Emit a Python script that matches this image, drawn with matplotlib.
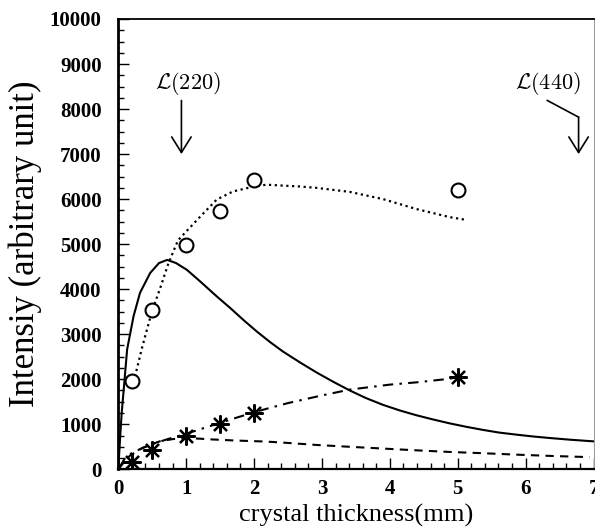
import matplotlib
matplotlib.use("Agg")
import matplotlib.pyplot as plt
from matplotlib.ticker import MultipleLocator

plt.rcParams['font.family'] = ['Liberation Serif', 'DejaVu Serif']
plt.rcParams['mathtext.fontset'] = 'cm'

# measured points
circ_x = [0.2, 0.5, 1.0, 1.5, 2.0, 5.0]
circ_y = [1950, 3530, 4990, 5730, 6430, 6210]
star_x = [0.2, 0.5, 1.0, 1.5, 2.0, 5.0]
star_y = [160, 420, 750, 1000, 1260, 2060]

# curves
solid_x = [0, 0.025, 0.05, 0.08, 0.13, 0.225, 0.32, 0.47, 0.6, 0.72, 0.85, 1.01, 1.2, 1.45, 1.65,
           1.84, 2.04, 2.24, 2.43, 2.68, 2.92, 3.17, 3.41, 3.65, 3.9, 4.15, 4.39, 4.64, 4.88,
           5.12, 5.37, 5.61, 5.86, 6.1, 6.35, 6.67, 7.0]
solid_y = [0, 650, 1250, 1770, 2660, 3400, 3920, 4360, 4580, 4650, 4580, 4430, 4180, 3840, 3580,
           3320, 3060, 2820, 2610, 2370, 2150, 1940, 1750, 1580, 1430, 1305, 1200, 1105, 1020,
           945, 875, 815, 770, 730, 695, 655, 620]

dash_x = [0, 0.08, 0.17, 0.27, 0.37, 0.5, 0.61, 0.8, 1.0, 1.2, 1.35, 1.7, 2.18, 2.5, 2.92,
          3.4, 3.9, 4.4, 4.88, 5.4, 5.86, 6.4, 6.94]
dash_y = [0, 150, 300, 400, 480, 560, 620, 670, 690, 680, 665, 640, 615, 585, 540,
          500, 460, 420, 385, 355, 325, 295, 270]

dashdot_x = [0.02, 0.1, 0.2, 0.35, 0.5, 0.75, 1.0, 1.25, 1.5, 1.75, 2.0, 2.2, 2.5, 3.0, 3.41,
             4.0, 4.39, 4.88, 5.0]
dashdot_y = [50, 250, 360, 470, 560, 680, 790, 910, 1030, 1150, 1265, 1350, 1470, 1640, 1770,
             1880, 1930, 2010, 2050]

dot_x = [0.2, 0.245, 0.35, 0.5, 0.61, 0.74, 0.88, 1.0, 1.2, 1.45, 1.69, 2.0, 2.18, 2.67, 2.92,
         3.41, 3.9, 4.39, 4.88, 5.12]
dot_y = [1950, 2050, 2700, 3530, 3990, 4580, 5085, 5280, 5600, 5990, 6170, 6280, 6320, 6280, 6250,
         6160, 6000, 5780, 5600, 5540]

# annotation anchors
lab220_xy = (1.02, 8560)
arr220 = [(0.93, 8190), (0.93, 7000)]
lab440_xy = (6.33, 8560)
arr440 = [(6.32, 8190), (6.78, 7820), (6.78, 7000)]

fig = plt.figure(figsize=(5.95, 5.29), dpi=100)
ax = fig.add_axes([0.1988, 0.1129, 0.7987, 0.8512])

ax.plot(solid_x, solid_y, color='black', lw=1.5, ls='-')
ax.plot(dash_x, dash_y, color='black', lw=1.5, ls=(0, (4, 3)))
ax.plot(dashdot_x, dashdot_y, color='black', lw=1.5, ls=(0, (5, 3, 1.2, 3)))
ax.plot(dot_x, dot_y, color='black', lw=1.6, ls=(0, (1, 1.6)))
ax.plot(circ_x, circ_y, ls='none', marker='o', ms=10, mfc='white', mec='black', mew=1.5)
ax.plot(star_x, star_y, ls='none', marker=(8, 2, 0), ms=13, mec='black', mew=1.6)

ax.text(*lab220_xy, r'$\mathcal{L}(220)$', fontsize=16, ha='center', va='center')
ax.annotate('', xy=arr220[1], xytext=arr220[0],
            arrowprops=dict(arrowstyle='->,head_length=0.8,head_width=0.5', lw=1.2,
                            color='black', mutation_scale=14, shrinkA=0, shrinkB=0))
ax.text(*lab440_xy, r'$\mathcal{L}(440)$', fontsize=16, ha='center', va='center')
ax.plot([arr440[0][0], arr440[1][0]], [arr440[0][1], arr440[1][1]], color='black', lw=1.2)
ax.annotate('', xy=arr440[2], xytext=arr440[1],
            arrowprops=dict(arrowstyle='->,head_length=0.8,head_width=0.5', lw=1.2,
                            color='black', mutation_scale=14, shrinkA=0, shrinkB=0))

ax.set_xlim(0, 7)
ax.set_ylim(0, 10000)
ax.xaxis.set_major_locator(MultipleLocator(1))
ax.xaxis.set_minor_locator(MultipleLocator(0.2))
ax.yaxis.set_major_locator(MultipleLocator(1000))
ax.yaxis.set_minor_locator(MultipleLocator(250))
ax.tick_params(which='both', direction='in', top=False, right=False, width=1.0)
ax.tick_params(which='major', length=8, labelsize=15)
ax.tick_params(axis='y', which='major', pad=12)
ax.tick_params(axis='x', which='major', pad=7)
ax.tick_params(which='minor', length=4.5)
for lab in ax.get_xticklabels() + ax.get_yticklabels():
    lab.set_fontweight('bold')

ax.spines['left'].set_linewidth(2.0)
ax.spines['bottom'].set_linewidth(1.6)
ax.spines['top'].set_linewidth(1.3)
ax.spines['right'].set_linewidth(0.8)
ax.spines['right'].set_color('#999999')

ax.set_xlabel('crystal thickness(mm)', fontsize=19)
ax.set_ylabel('Intensiy (arbitrary unit)', fontsize=25)
ax.xaxis.set_label_coords(0.5, -0.076)
ax.yaxis.set_label_coords(-0.16, 0.5)

fig.savefig('out.png', dpi=100)
